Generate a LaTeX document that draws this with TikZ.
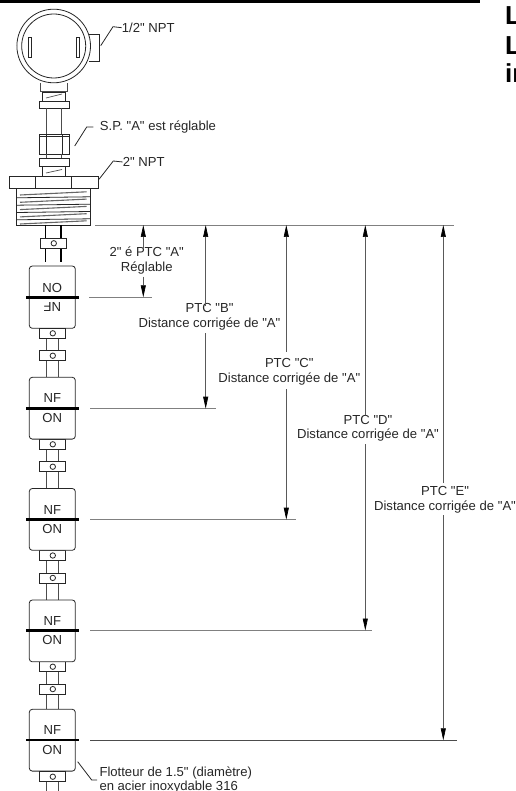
\documentclass[tikz,border=0pt]{standalone}
\usepackage{fontspec}
\setmainfont{Liberation Sans}[Ligatures=TeXOff]
\usetikzlibrary{arrows.meta}
\tikzset{
  x=1pt,y=-1pt,
  dr/.style={draw=black!85,line width=0.8pt},
  thin1/.style={draw=black!70,line width=0.7pt},
  ext/.style={draw=black!50,line width=0.8pt},
  dimarrow/.style={draw=black!65,line width=0.7pt,-{Triangle[length=12pt,width=5pt,black]}},
  lab/.style={font=\fontsize{13.1}{14.6}\selectfont,text=black!85,inner sep=0pt,align=center},
  labl/.style={lab,anchor=west},
  head/.style={font=\bfseries\fontsize{26}{26}\selectfont,inner sep=0pt,anchor=base west},
  pill/.style={draw=black!85,fill=white,line width=0.8pt,rounded corners=3pt},
  bar/.style={draw=black,line width=2.6pt},
  rodl/.style={draw=black!70,line width=0.8pt},
}
\newcommand{\clamp}[2]{%
  \draw[dr,fill=white] (#1-13,#2-5) rectangle (#1+13,#2+5);
  \draw[dr] (#1+0.5,#2) circle (2.7);
}
\begin{document}
\begin{tikzpicture}
\useasboundingbox (0,0) rectangle (515,791);
\fill[black] (0,0) rectangle (480,3.5);
% head text
\node[head] (h1) at (505,25) {L};
\node[head] (h2) at (505,55) {L};
\node[head] (h3) at (505,83) {in};
% housing
\draw[dr] (89,34) -- (99,34) -- (99,61) -- (89,61);
\draw[dr,fill=white] (53.7,46) circle (36.8);
\draw[dr] (53.7,46) circle (32);
\draw[dr] (28.5,37.5) rectangle (31.5,57);
\draw[dr] (76.3,37.5) rectangle (79.3,57);
\draw[thin1] (40.7,83) -- (40.7,91.7) -- (67.7,91.7) -- (67.7,83);
\draw[dr] (42.7,92) rectangle (65.7,101);
\draw[thin1] (46,98) -- (62,94);
\draw[dr] (39.3,101) rectangle (69.3,108);
\draw[thin1] (46.7,108) -- (46.7,134.5);
\draw[thin1] (61.7,108) -- (61.7,134.5);
\draw[dr] (39.3,134.5) rectangle (69.3,154);
\draw[dr] (46.7,134.5) -- (46.7,154);
\draw[dr] (62.3,134.5) -- (62.3,154);
\draw[dr] (39.3,136.7) -- (69.3,136.7);
\draw[thin1] (46.7,154) -- (46.7,158);
\draw[thin1] (61.7,154) -- (61.7,158);
\draw[dr] (39.3,158) rectangle (69.3,166);
\draw[dr] (42.7,166) rectangle (65.7,176.7);
\draw[thin1] (46,173) -- (62,169.5);
\draw[dr] (9,176.7) rectangle (98.3,188.3);
\draw[dr] (35,176.7) -- (35,188.3);
\draw[dr] (71.7,176.7) -- (71.7,188.3);
\draw[dr] (16.7,188.5) rectangle (90,225);
\foreach \yy in {195,202.3,209.6,216.9,224}{
  \draw[draw=black!60,line width=1.1pt] (20,\yy) -- (86.7,\yy-3.2);
}
\foreach \yy in {197.3,204.7,212,219.3}{
  \draw[dr] (16.7,\yy+0.5) -- (90,\yy-0.5);
}
% rod
\draw[draw=black,line width=1.2pt] (45.7,225) -- (45.7,262);
\draw[draw=black,line width=1.2pt] (61,225) -- (61,262);
\clamp{53.3}{243.3}
\draw[pill] (29.3,266) rectangle (75.3,328.3);
\draw[bar] (26,297.3) -- (78.7,297.3);
\node[lab] (no) at (52.3,288) {NO};
\node[lab,rotate=180] (nf) at (52.3,307.3) {NF};
% rods and clamps between floats
\foreach \a/\b in {328.3/377.3,439.3/488.5,550.5/600,661.7/709.3}{
  \draw[rodl] (46.7,\a) -- (46.7,\b);
  \draw[rodl] (58.3,\a) -- (58.3,\b);
  \clamp{52.3}{\a+5}
  \clamp{52.3}{\a+27.4}
}
\draw[rodl] (46.7,771) -- (46.7,791);
\draw[rodl] (58.3,771) -- (58.3,791);
% floats
\foreach \t/\m/\u/\o in {377.3/408.7/398.3/418.3,488.5/519.5/509.5/529.3,600/630.7/621/640,709.3/740/730/750}{
  \draw[pill] (29.3,\t) rectangle (75.3,\t+61.8);
  \draw[bar] (26,\m) -- (78.7,\m);
  \node[lab] at (52.3,\u) {NF};
  \node[lab] at (52.3,\o) {ON};
}
\clamp{52.3}{776.7}
% extension lines
\coordinate (top0) at (95,225);
\coordinate (topR) at (454,225);
\draw[ext] (top0) -- (topR);
\coordinate (ax) at (89,297.3);
\coordinate (la) at (152,297.3);
\draw[ext] (ax) -- (la);
\coordinate (bx) at (90,408.7);
\coordinate (lb) at (216,408.7);
\draw[ext] (bx) -- (lb);
\coordinate (cx) at (90,519.7);
\coordinate (lc) at (296,519.7);
\draw[ext] (cx) -- (lc);
\coordinate (dx) at (90,630.5);
\coordinate (ld) at (371.7,630.5);
\draw[ext] (dx) -- (ld);
\coordinate (ex) at (90,740.3);
\coordinate (le) at (456.7,740.3);
\draw[ext,draw=black!70] (ex) -- (le);
% dims
\node[lab] (a) at (146.7,260.8) {2" é PTC "A"\\Réglable};
\coordinate (a1) at (143.3,248);
\coordinate (a2) at (143.3,276.7);
\coordinate (a3) at (143.3,225);
\coordinate (a4) at (143.3,297.3);
\draw[dimarrow] (a1) -- (a3);
\draw[dimarrow] (a2) -- (a4);
\node[lab] (b) at (209.5,317) {PTC "B"\\Distance corrigée de "A"};
\coordinate (b1) at (205.7,306);
\coordinate (b2) at (205.7,333.3);
\coordinate (b3) at (205.7,225);
\coordinate (b4) at (205.7,408.7);
\draw[dimarrow] (b1) -- (b3);
\draw[dimarrow] (b2) -- (b4);
\node[lab] (c) at (289.3,371.5) {PTC "C"\\Distance corrigée de "A"};
\coordinate (c1) at (286.3,351.7);
\coordinate (c2) at (286.3,389);
\coordinate (c3) at (286.3,225);
\coordinate (c4) at (286.3,519.7);
\draw[dimarrow] (c1) -- (c3);
\draw[dimarrow] (c2) -- (c4);
\node[lab] (d) at (368,428.3) {PTC "D"\\Distance corrigée de "A"};
\coordinate (d1) at (365.3,415);
\coordinate (d2) at (365.3,444);
\coordinate (d3) at (365.3,225);
\coordinate (d4) at (365.3,630.5);
\draw[dimarrow] (d1) -- (d3);
\draw[dimarrow] (d2) -- (d4);
\node[lab] (e) at (445,499.5) {PTC "E"\\Distance corrigée de "A"};
\coordinate (e1) at (443.3,483);
\coordinate (e2) at (443.3,515);
\coordinate (e3) at (443.3,225);
\coordinate (e4) at (443.3,740.3);
\draw[dimarrow] (e1) -- (e3);
\draw[dimarrow] (e2) -- (e4);
% leaders
\node[labl] (n1) at (121.7,27.7) {1/2" NPT};
\coordinate (n1a) at (113,26.7);
\coordinate (n1b) at (100.7,45.7);
\draw[dr] (n1.west) -- (n1a) -- (n1b);
\node[labl] (n2) at (99.7,127.3) {S.P. "A" est réglable};
\coordinate (n2a) at (86.7,127);
\coordinate (n2b) at (74.7,146);
\draw[dr] (93.3,127) -- (n2a) -- (n2b);
\node[labl] (n3) at (122.7,162) {2" NPT};
\coordinate (n3a) at (113.3,161);
\coordinate (n3b) at (99,179.3);
\draw[dr] (n3.west) -- (n3a) -- (n3b);
\node[labl] (n4) at (99.3,773) {Flotteur de 1.5" (diamètre)};
\coordinate (n4a) at (91.7,780);
\coordinate (n4b) at (77.7,761.7);
\draw[dr] (97,780) -- (n4a) -- (n4b);
\node[labl] (n5) at (99.3,787) {en acier inoxydable 316};
\end{tikzpicture}
\end{document}
